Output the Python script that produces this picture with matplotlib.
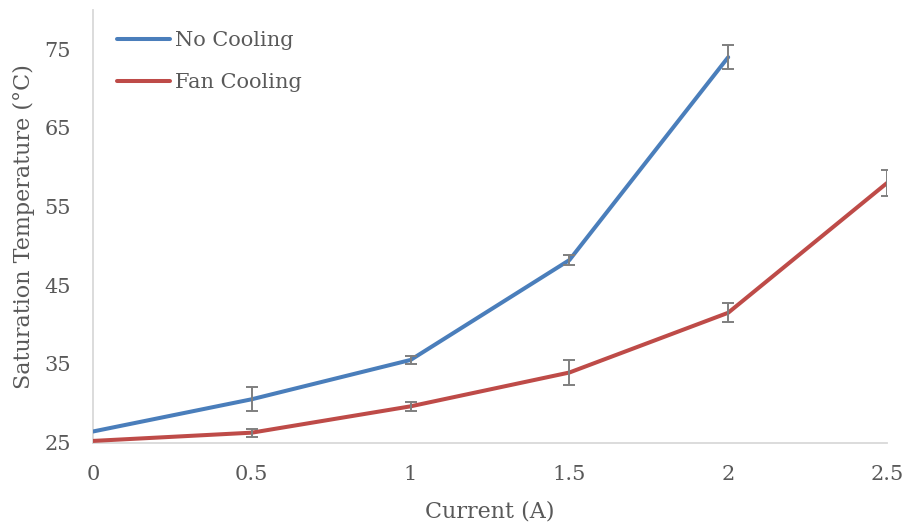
import matplotlib
matplotlib.use("Agg")
import matplotlib.pyplot as plt

current = [0, 0.5, 1, 1.5, 2, 2.5]
no_cooling = [26.4, 30.5, 35.5, 48.2, 74.0]
no_cooling_err = [0, 1.5, 0.55, 0.6, 1.55]
fan_cooling = [25.2, 26.25, 29.6, 33.9, 41.5, 58.0]
fan_cooling_err = [0, 0.5, 0.57, 1.6, 1.2, 1.7]
xticks = [0, 0.5, 1, 1.5, 2, 2.5]
xticklabels = ["0", "0.5", "1", "1.5", "2", "2.5"]
yticks = [25, 35, 45, 55, 65, 75]

plt.rcParams['font.family'] = ['DejaVu Serif']
TXT = '#595959'
fig = plt.figure(figsize=(9.06, 5.25), dpi=100)
ax = fig.add_axes([93/906, 1-442.5/525, (887-93)/906, (442.5-10)/525])

ax.plot(current[:len(no_cooling)], no_cooling, color='#4A7EBB', lw=2.9, label='No Cooling', solid_capstyle='round', zorder=3)
ax.plot(current, fan_cooling, color='#BE4B48', lw=2.9, label='Fan Cooling', solid_capstyle='round', zorder=3)
ax.errorbar(current[1:len(no_cooling)], no_cooling[1:], yerr=no_cooling_err[1:], fmt='none',
            ecolor='#7F7F7F', elinewidth=1.4, capsize=4, capthick=1.4, zorder=4)
ax.errorbar(current[1:], fan_cooling[1:], yerr=fan_cooling_err[1:], fmt='none',
            ecolor='#7F7F7F', elinewidth=1.4, capsize=4, capthick=1.4, zorder=4)

ax.set_xlim(0, 2.5)
ax.set_ylim(25, 80)
ax.set_xticks(xticks)
ax.set_xticklabels(xticklabels)
ax.set_yticks(yticks)
ax.tick_params(length=0, labelsize=15, colors=TXT)
ax.tick_params(axis='x', pad=16)
ax.tick_params(axis='y', pad=16)
for s in ['top', 'right']:
    ax.spines[s].set_visible(False)
for s in ['left', 'bottom']:
    ax.spines[s].set_color('#D9D9D9')
    ax.spines[s].set_linewidth(1.3)

ax.set_xlabel('Current (A)', fontsize=16, color=TXT, labelpad=12)
ax.set_ylabel('Saturation Temperature (°C)', fontsize=16, color=TXT, labelpad=6.5)

leg = ax.legend(loc='upper left', bbox_to_anchor=(0.006, 0.995), frameon=False, fontsize=15,
                labelcolor=TXT, handlelength=2.55, handletextpad=0.25, labelspacing=1.1)

fig.savefig('out.png', dpi=100)
